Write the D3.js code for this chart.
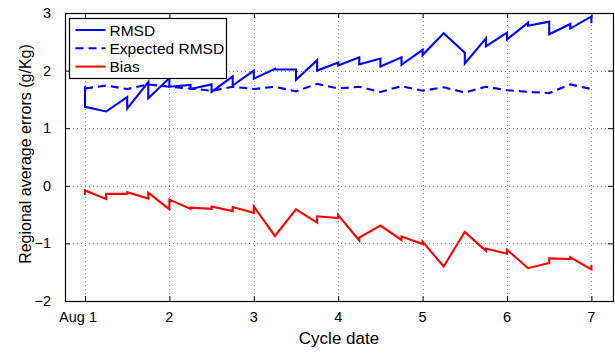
<!DOCTYPE html>
<html>
<head>
<meta charset="utf-8">
<script src="https://cdn.jsdelivr.net/npm/d3@7"></script>
<style>
  html, body { margin: 0; padding: 0; background: #fff; }
  svg { display: block; font-family: "Liberation Sans", Arial, Helvetica, sans-serif; }
</style>
</head>
<body>
<svg id="chart" width="615" height="354"></svg>
<script>
// Analysis cycle times (days of August, 6-hourly)
const cycleDays = [1, 1.25, 1.5, 1.75, 2, 2.25, 2.5, 2.75, 3, 3.25, 3.5, 3.75, 4,
                   4.25, 4.5, 4.75, 5, 5.25, 5.5, 5.75, 6, 6.25, 6.5, 6.75, 7];

// RMSD just before (forecast) and just after (analysis) each cycle
const rmsdForecast = [1.73, 1.29, 1.54, 1.80, 1.87, 1.75, 1.76, 1.90, 2.00, 2.03, 2.02, 2.18, 2.14,
                      2.23, 2.21, 2.23, 2.36, 2.65, 2.31, 2.56, 2.66, 2.83, 2.85, 2.81, 2.94];
const rmsdAnalysis = [1.37, 1.29, 1.34, 1.52, 1.72, 1.68, 1.63, 1.74, 1.86, 2.02, 1.84, 2.00, 2.09,
                      2.11, 2.07, 2.10, 2.27, 2.65, 2.12, 2.42, 2.54, 2.78, 2.63, 2.73, 2.82];

// Expected RMSD at each cycle
const expectedRmsd = [1.69, 1.74, 1.68, 1.76, 1.72, 1.69, 1.65, 1.72, 1.68, 1.72, 1.64, 1.77, 1.69,
                      1.72, 1.63, 1.73, 1.65, 1.71, 1.62, 1.72, 1.66, 1.63, 1.61, 1.76, 1.68];

// Bias just before and just after each cycle
const biasForecast = [-0.16, -0.23, -0.14, -0.22, -0.41, -0.40, -0.40, -0.44, -0.47, -0.87, -0.41, -0.64, -0.56,
                      -0.95, -0.69, -0.94, -1.01, -1.40, -0.80, -1.13, -1.18, -1.43, -1.34, -1.27, -1.45];
const biasAnalysis = [-0.08, -0.14, -0.11, -0.12, -0.24, -0.38, -0.36, -0.37, -0.36, -0.87, -0.41, -0.53, -0.51,
                      -0.90, -0.69, -0.88, -0.97, -1.40, -0.80, -1.09, -1.11, -1.43, -1.26, -1.24, -1.37];

// Axis ticks and labels
const xTicks = [1, 2, 3, 4, 5, 6, 7];
const xTickLabels = ["Aug 1", "2", "3", "4", "5", "6", "7"];
const yTicks = [-2, -1, 0, 1, 2, 3];

const legendItems = [
  { label: "RMSD", color: "#0000ff", dash: null },
  { label: "Expected RMSD", color: "#0000ff", dash: "8,5" },
  { label: "Bias", color: "#ff0000", dash: null }
];

const svg = d3.select("#chart");
const plot = { left: 65, right: 613, top: 13, bottom: 301 };

const x = d3.scaleLinear().domain([0.763, 7.256]).range([plot.left, plot.right]);
const y = d3.scaleLinear().domain([-2, 3]).range([plot.bottom, plot.top]);

// Dotted grid
const grid = svg.append("g").attr("stroke", "#8c8c8c").attr("stroke-width", 1)
  .attr("stroke-dasharray", "1,3").attr("shape-rendering", "crispEdges");
grid.selectAll("line.gx").data(xTicks).join("line")
  .attr("x1", d => Math.round(x(d)) + 0.5).attr("x2", d => Math.round(x(d)) + 0.5)
  .attr("y1", plot.top).attr("y2", plot.bottom);
grid.selectAll("line.gy").data(yTicks.filter(v => v > -2 && v < 3)).join("line")
  .attr("y1", d => Math.round(y(d)) + 0.5).attr("y2", d => Math.round(y(d)) + 0.5)
  .attr("x1", plot.left).attr("x2", plot.right);

// Axes with inward ticks on all four sides
const tickLen = 5;
const axisStyle = g => {
  g.select(".domain").remove();
  g.selectAll(".tick line").attr("stroke", "#000").attr("stroke-width", 1);
  g.selectAll(".tick text").remove();
};
svg.append("g").attr("transform", `translate(0,${plot.bottom})`)
  .call(d3.axisBottom(x).tickValues(xTicks).tickSize(-tickLen)).call(axisStyle);
svg.append("g").attr("transform", `translate(0,${plot.top})`)
  .call(d3.axisTop(x).tickValues(xTicks).tickSize(-tickLen)).call(axisStyle);
svg.append("g").attr("transform", `translate(${plot.left},0)`)
  .call(d3.axisLeft(y).tickValues(yTicks).tickSize(-tickLen)).call(axisStyle);
svg.append("g").attr("transform", `translate(${plot.right},0)`)
  .call(d3.axisRight(y).tickValues(yTicks).tickSize(-tickLen)).call(axisStyle);

// Tick labels
svg.append("g").attr("font-size", 14.5).attr("fill", "#000")
  .selectAll("text").data(xTicks).join("text")
  .attr("x", (d, i) => i === 0 ? x(d) - 7 : x(d))
  .attr("y", 322)
  .attr("text-anchor", "middle")
  .text((d, i) => xTickLabels[i]);

svg.append("g").attr("font-size", 14.5).attr("fill", "#000")
  .selectAll("text").data(yTicks).join("text")
  .attr("x", 51)
  .attr("y", d => y(d) + 5)
  .attr("text-anchor", "end")
  .text(d => d < 0 ? "\u2212" + Math.abs(d) : String(d));

// Axis titles
svg.append("text").attr("x", (plot.left + plot.right) / 2).attr("y", 344)
  .attr("text-anchor", "middle").attr("font-size", 17).text("Cycle date");
svg.append("text")
  .attr("transform", `translate(31,${(plot.top + plot.bottom) / 2 - 3}) rotate(-90)`)
  .attr("text-anchor", "middle").attr("font-size", 16)
  .text("Regional average errors (g/Kg)");

// Sawtooth series: forecast value then analysis value at each cycle
const sawtooth = (fc, an) => cycleDays.flatMap((t, i) => [[t, fc[i]], [t, an[i]]]);
const line = d3.line().x(d => x(d[0])).y(d => y(d[1]));

const series = svg.append("g").attr("fill", "none").attr("stroke-width", 2.1)
  .attr("stroke-linejoin", "miter");
series.append("path")
  .attr("d", line(cycleDays.map((t, i) => [t, expectedRmsd[i]])))
  .attr("stroke", "#0000ff").attr("stroke-dasharray", "8,5");
series.append("path")
  .attr("d", line(sawtooth(rmsdForecast, rmsdAnalysis)))
  .attr("stroke", "#0000ff");
series.append("path")
  .attr("d", line(sawtooth(biasForecast, biasAnalysis)))
  .attr("stroke", "#ff0000");

// Plot frame
svg.append("rect")
  .attr("x", plot.left + 0.5).attr("y", plot.top + 0.5)
  .attr("width", plot.right - plot.left).attr("height", plot.bottom - plot.top)
  .attr("fill", "none").attr("stroke", "#000").attr("stroke-width", 1.2);

// Legend
const legend = svg.append("g").attr("transform", "translate(69.5,18.5)");
legend.append("rect").attr("width", 157).attr("height", 60)
  .attr("fill", "#fff").attr("stroke", "#000").attr("stroke-width", 1.2);
const rows = legend.selectAll("g.row").data(legendItems).join("g")
  .attr("transform", (d, i) => `translate(0,${11.5 + i * 18.3})`);
rows.append("line").attr("x1", 6).attr("x2", 36).attr("y1", 0).attr("y2", 0)
  .attr("stroke", d => d.color).attr("stroke-width", 2)
  .attr("stroke-dasharray", d => d.dash);
rows.append("text").attr("x", 40).attr("y", 5.5).attr("font-size", 15.5)
  .text(d => d.label);
</script>
</body>
</html>
